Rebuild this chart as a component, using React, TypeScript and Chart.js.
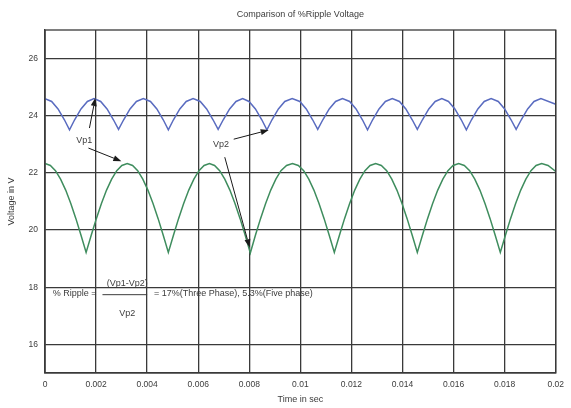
import React, { useEffect, useRef } from "react";
import { Chart, registerables } from "chart.js";

Chart.register(...registerables);

// ---- Data (time in s, voltage in V) ----
const blueTime = [
  0.0, 0.00026, 0.00051, 0.00076, 0.00096, 0.00116, 0.00141, 0.00166, 0.00192,
  0.00218, 0.00243, 0.00268, 0.00288, 0.00308, 0.00333, 0.00358, 0.00385,
  0.00413, 0.00438, 0.00463, 0.00483, 0.00503, 0.00528, 0.00553, 0.0058,
  0.00608, 0.00633, 0.00658, 0.00678, 0.00698, 0.00723, 0.00748, 0.00774,
  0.00799, 0.00824, 0.00849, 0.00869, 0.00889, 0.00914, 0.00939, 0.00968,
  0.00998, 0.01023, 0.01048, 0.01068, 0.01088, 0.01113, 0.01138, 0.01165,
  0.01193, 0.01218, 0.01243, 0.01263, 0.01283, 0.01308, 0.01333, 0.0136,
  0.01388, 0.01413, 0.01438, 0.01458, 0.01478, 0.01503, 0.01528, 0.01554,
  0.0158, 0.01605, 0.0163, 0.0165, 0.0167, 0.01695, 0.0172, 0.01747,
  0.01775, 0.018, 0.01825, 0.01845, 0.01865, 0.0189, 0.01915, 0.01942,
  0.02,
];
const blueVolts = [
  24.6, 24.5, 24.24, 23.86, 23.51, 23.86, 24.24, 24.5, 24.6,
  24.5, 24.24, 23.86, 23.52, 23.86, 24.24, 24.5, 24.6,
  24.5, 24.24, 23.86, 23.51, 23.86, 24.24, 24.5, 24.6,
  24.5, 24.24, 23.86, 23.52, 23.86, 24.24, 24.5, 24.6,
  24.5, 24.24, 23.86, 23.51, 23.86, 24.24, 24.5, 24.6,
  24.5, 24.24, 23.86, 23.52, 23.86, 24.24, 24.5, 24.6,
  24.5, 24.24, 23.86, 23.51, 23.86, 24.24, 24.5, 24.6,
  24.5, 24.24, 23.86, 23.52, 23.86, 24.24, 24.5, 24.6,
  24.5, 24.24, 23.86, 23.51, 23.86, 24.24, 24.5, 24.6,
  24.5, 24.24, 23.86, 23.52, 23.86, 24.24, 24.5, 24.6,
  24.4,
];

const greenTime = [
  0.0, 0.00021, 0.00041, 0.00061, 0.00081, 0.00101, 0.00121, 0.00141, 0.00161,
  0.00181, 0.00201, 0.00221, 0.00241, 0.00261, 0.00281, 0.00301, 0.00322,
  0.00343, 0.00363, 0.00383, 0.00403, 0.00423, 0.00443, 0.00463, 0.00483,
  0.00503, 0.00523, 0.00543, 0.00563, 0.00583, 0.00603, 0.00623, 0.00644,
  0.00664, 0.00684, 0.00704, 0.00724, 0.00744, 0.00764, 0.00784, 0.00804,
  0.00824, 0.00844, 0.00864, 0.00884, 0.00904, 0.00924, 0.00946, 0.00969,
  0.00992, 0.01013, 0.01033, 0.01053, 0.01073, 0.01093, 0.01113, 0.01133,
  0.01153, 0.01173, 0.01193, 0.01213, 0.01233, 0.01253, 0.01273, 0.01295,
  0.01317, 0.01338, 0.01358, 0.01378, 0.01398, 0.01418, 0.01438, 0.01458,
  0.01478, 0.01498, 0.01518, 0.01538, 0.01558, 0.01578, 0.01598, 0.0162,
  0.01642, 0.01663, 0.01683, 0.01703, 0.01723, 0.01743, 0.01763, 0.01783,
  0.01803, 0.01823, 0.01843, 0.01863, 0.01883, 0.01903, 0.01923, 0.01945,
  0.0197, 0.02,
];
const greenVolts = [
  22.33, 22.26, 22.08, 21.78, 21.4, 20.93, 20.4, 19.82, 19.22,
  19.82, 20.4, 20.93, 21.4, 21.78, 22.08, 22.26, 22.33,
  22.26, 22.08, 21.78, 21.4, 20.93, 20.4, 19.82, 19.22,
  19.82, 20.4, 20.93, 21.4, 21.78, 22.08, 22.26, 22.33,
  22.26, 22.08, 21.78, 21.4, 20.93, 20.4, 19.82, 19.2,
  19.82, 20.4, 20.93, 21.4, 21.78, 22.08, 22.26, 22.33,
  22.26, 22.08, 21.78, 21.4, 20.93, 20.4, 19.82, 19.22,
  19.82, 20.4, 20.93, 21.4, 21.78, 22.08, 22.26, 22.33,
  22.26, 22.08, 21.78, 21.4, 20.93, 20.4, 19.82, 19.22,
  19.82, 20.4, 20.93, 21.4, 21.78, 22.08, 22.26, 22.33,
  22.26, 22.08, 21.78, 21.4, 20.93, 20.4, 19.82, 19.22,
  19.82, 20.4, 20.93, 21.4, 21.78, 22.08, 22.26, 22.33,
  22.26, 22.05,
];

const xTickValues = [0, 0.002, 0.004, 0.006, 0.008, 0.01, 0.012, 0.014, 0.016, 0.018, 0.02];
const xTickLabels = ["0", "0.002", "0.004", "0.006", "0.008", "0.01", "0.012", "0.014", "0.016", "0.018", "0.02"];
const yTickValues = [16, 18, 20, 22, 24, 26];

const chartTitle = "Comparison of %Ripple Voltage";
const xTitle = "Time in sec";
const yTitle = "Voltage in V";

// annotation anchors in data units [time s, volts]
const vp1Label = { text: "Vp1", at: [0.00154, 23.15] };
const vp2Label = { text: "Vp2", at: [0.00689, 23.01] };
const arrows = [
  { from: [0.00174, 23.57], to: [0.00197, 24.62] },
  { from: [0.0017, 22.87], to: [0.00299, 22.41] },
  { from: [0.00739, 23.18], to: [0.00876, 23.5] },
  { from: [0.00704, 22.55], to: [0.00801, 19.4] },
];
const formulaLeft = { text: "% Ripple =", at: [0.0003, 17.78] };
const formulaBar = { from: [0.00225, 17.74], to: [0.004, 17.74] };
const formulaNum = { text: "(Vp1-Vp2)", at: [0.00322, 18.14] };
const formulaDen = { text: "Vp2", at: [0.00322, 17.09] };
const formulaRight = { text: "= 17%(Three Phase), 5.3%(Five phase)", at: [0.00427, 17.78] };

const FONT = "'Liberation Sans', Arial, sans-serif";
const TEXT_COLOR = "#3c3c3c";
const GRID_COLOR = "#3a3a3a";

const annotPlugin = {
  id: "annotations",
  afterDatasetsDraw(chart: any) {
    const { ctx, chartArea } = chart;
    const xs = chart.scales.x;
    const ys = chart.scales.y;
    const px = (t: number) => xs.getPixelForValue(t);
    const py = (v: number) => ys.getPixelForValue(v);
    ctx.save();
    // plot box
    ctx.strokeStyle = GRID_COLOR;
    ctx.lineWidth = 1.3;
    ctx.strokeRect(chartArea.left, chartArea.top, chartArea.right - chartArea.left, chartArea.bottom - chartArea.top);

    // title
    ctx.fillStyle = TEXT_COLOR;
    ctx.font = `9px ${FONT}`;
    ctx.textAlign = "center";
    ctx.textBaseline = "middle";
    ctx.fillText(chartTitle, (chartArea.left + chartArea.right) / 2, 15);

    // arrows
    ctx.strokeStyle = "#1a1a1a";
    ctx.fillStyle = "#1a1a1a";
    ctx.lineWidth = 1;
    for (const a of arrows) {
      const x1 = px(a.from[0]), y1 = py(a.from[1]);
      const x2 = px(a.to[0]), y2 = py(a.to[1]);
      const ang = Math.atan2(y2 - y1, x2 - x1);
      const L = 8, W = 3;
      ctx.beginPath();
      ctx.moveTo(x1, y1);
      ctx.lineTo(x2 - L * Math.cos(ang), y2 - L * Math.sin(ang));
      ctx.stroke();
      ctx.beginPath();
      ctx.moveTo(x2, y2);
      ctx.lineTo(x2 - L * Math.cos(ang) + W * Math.sin(ang), y2 - L * Math.sin(ang) - W * Math.cos(ang));
      ctx.lineTo(x2 - L * Math.cos(ang) - W * Math.sin(ang), y2 - L * Math.sin(ang) + W * Math.cos(ang));
      ctx.closePath();
      ctx.fill();
    }

    // labels
    ctx.fillStyle = TEXT_COLOR;
    ctx.font = `9px ${FONT}`;
    ctx.textBaseline = "middle";
    ctx.textAlign = "center";
    ctx.fillText(vp1Label.text, px(vp1Label.at[0]), py(vp1Label.at[1]));
    ctx.fillText(vp2Label.text, px(vp2Label.at[0]), py(vp2Label.at[1]));
    ctx.fillText(formulaNum.text, px(formulaNum.at[0]), py(formulaNum.at[1]));
    ctx.fillText(formulaDen.text, px(formulaDen.at[0]), py(formulaDen.at[1]));
    ctx.textAlign = "left";
    ctx.fillText(formulaLeft.text, px(formulaLeft.at[0]), py(formulaLeft.at[1]));
    ctx.fillText(formulaRight.text, px(formulaRight.at[0]), py(formulaRight.at[1]));

    ctx.strokeStyle = TEXT_COLOR;
    ctx.lineWidth = 1;
    ctx.beginPath();
    ctx.moveTo(px(formulaBar.from[0]), py(formulaBar.from[1]));
    ctx.lineTo(px(formulaBar.to[0]), py(formulaBar.to[1]));
    ctx.stroke();
    ctx.restore();
  },
};

export default function App() {
  const canvasRef = useRef<HTMLCanvasElement | null>(null);

  useEffect(() => {
    document.body.style.margin = "0";
    const canvas = canvasRef.current;
    if (!canvas) return;
    const blueData = blueTime.map((t, i) => ({ x: t, y: blueVolts[i] }));
    const greenData = greenTime.map((t, i) => ({ x: t, y: greenVolts[i] }));

    const chart = new Chart(canvas, {
      type: "line",
      data: {
        datasets: [
          {
            label: "Three phase",
            data: blueData,
            borderColor: "#5a6cc0",
            borderWidth: 1.5,
            pointRadius: 0,
            tension: 0,
            fill: false,
          },
          {
            label: "Five phase",
            data: greenData,
            borderColor: "#3f8d5e",
            borderWidth: 1.5,
            pointRadius: 0,
            tension: 0,
            fill: false,
          },
        ],
      },
      options: {
        animation: false,
        responsive: false,
        maintainAspectRatio: false,
        layout: { padding: { top: 30, right: 14, bottom: 0, left: 0 } },
        plugins: {
          legend: { display: false },
          tooltip: { enabled: false },
          title: { display: false },
        },
        scales: {
          x: {
            type: "linear",
            min: 0,
            max: 0.02,
            afterBuildTicks: (scale: any) => {
              scale.ticks = xTickValues.map((v) => ({ value: v }));
            },
            afterFit: (scale: any) => {
              scale.height = 35;
            },
            ticks: {
              autoSkip: false,
              maxRotation: 0,
              padding: 7,
              color: TEXT_COLOR,
              font: { family: FONT, size: 8.5 },
              callback: (_v: any, i: number) => xTickLabels[i],
            },
            grid: { color: GRID_COLOR, lineWidth: 1.3, drawTicks: false },
            border: { display: true, color: GRID_COLOR, width: 1.3 },
            title: {
              display: true,
              text: xTitle,
              color: TEXT_COLOR,
              font: { family: FONT, size: 9 },
              padding: { top: 0, bottom: 3 },
            },
          },
          y: {
            type: "linear",
            min: 15,
            max: 27,
            afterBuildTicks: (scale: any) => {
              scale.ticks = yTickValues.map((v) => ({ value: v }));
            },
            afterFit: (scale: any) => {
              scale.width = 45;
            },
            ticks: {
              padding: 7,
              color: TEXT_COLOR,
              font: { family: FONT, size: 8.5 },
              callback: (v: any) => String(v),
            },
            grid: { color: GRID_COLOR, lineWidth: 1.3, drawTicks: false },
            border: { display: true, color: GRID_COLOR, width: 1.3 },
            title: {
              display: true,
              text: yTitle,
              color: TEXT_COLOR,
              font: { family: FONT, size: 9 },
              padding: { top: 6, bottom: 0 },
            },
          },
        },
      },
      plugins: [annotPlugin],
    });
    return () => chart.destroy();
  }, []);

  return (
    <div style={{ width: 571, height: 408, background: "#fff" }}>
      <canvas ref={canvasRef} width={571} height={408} />
    </div>
  );
}
